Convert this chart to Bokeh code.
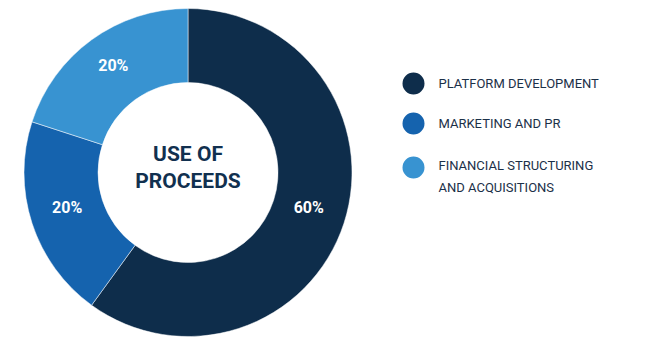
import math
from bokeh.plotting import figure
from bokeh.models import ColumnDataSource, Range1d
from bokeh.core.properties import value
from bokeh.embed import file_html
from bokeh.resources import INLINE

categories = ["PLATFORM DEVELOPMENT", "MARKETING AND PR", "FINANCIAL STRUCTURING\nAND ACQUISITIONS"]
values = [60, 20, 20]
colors = ["#0e2d4b", "#1563ae", "#3893d1"]
center_title = "USE OF\nPROCEEDS"

W, H = 647, 341
cx, cy = 187.5, 169
r_out, r_in = 164, 90

total = sum(values)
starts, ends, mids = [], [], []
acc = 0
for v in values:
    a0 = math.pi / 2 - 2 * math.pi * acc / total
    acc += v
    a1 = math.pi / 2 - 2 * math.pi * acc / total
    starts.append(a0)
    ends.append(a1)
    mids.append((a0 + a1) / 2)

r_lab = (r_out + r_in) / 2
src = ColumnDataSource(dict(
    start=starts, end=ends, color=colors,
    lx=[cx + r_lab * math.cos(m) for m in mids],
    ly=[cy + r_lab * math.sin(m) + 4 for m in mids],
    lab=[f"{v}%" for v in values],
))

p = figure(width=W, height=H, output_backend="svg", toolbar_location=None,
           x_range=Range1d(0, W), y_range=Range1d(0, H),
           min_border=0, outline_line_color=None)
p.axis.visible = False
p.xgrid.visible = False
p.ygrid.visible = False
p.background_fill_color = "white"

p.annular_wedge(x=cx, y=cy, inner_radius=r_in, outer_radius=r_out,
                start_angle="start", end_angle="end", direction="clock",
                fill_color="color", line_color="white", line_width=0.5, source=src)

p.text(x="lx", y="ly", text="lab", source=src, text_color="white",
       text_font=value("Roboto"), text_font_style="bold", text_font_size="16px",
       text_align="center", text_baseline="middle")

p.text(x=[cx], y=[cy + 5], text=[center_title], text_color="#11304f",
       text_font=value("Roboto"), text_font_style="bold", text_font_size="21px",
       text_align="center", text_baseline="middle", text_line_height=1.1)

# legend
leg_x = 413
leg_y = [258, 218, 174]
p.scatter(x=[leg_x] * 3, y=leg_y, size=22, marker="circle",
          fill_color=colors, line_color=None)
p.text(x=[leg_x + 25] * 3, y=[leg_y[0], leg_y[1], leg_y[2] - 9], text=categories,
       text_color="#1b3048", text_font=value("Roboto"), text_font_size="13px",
       text_align="left", text_baseline="middle", text_line_height=1.45)

open("out.html", "w").write(file_html(p, INLINE))
